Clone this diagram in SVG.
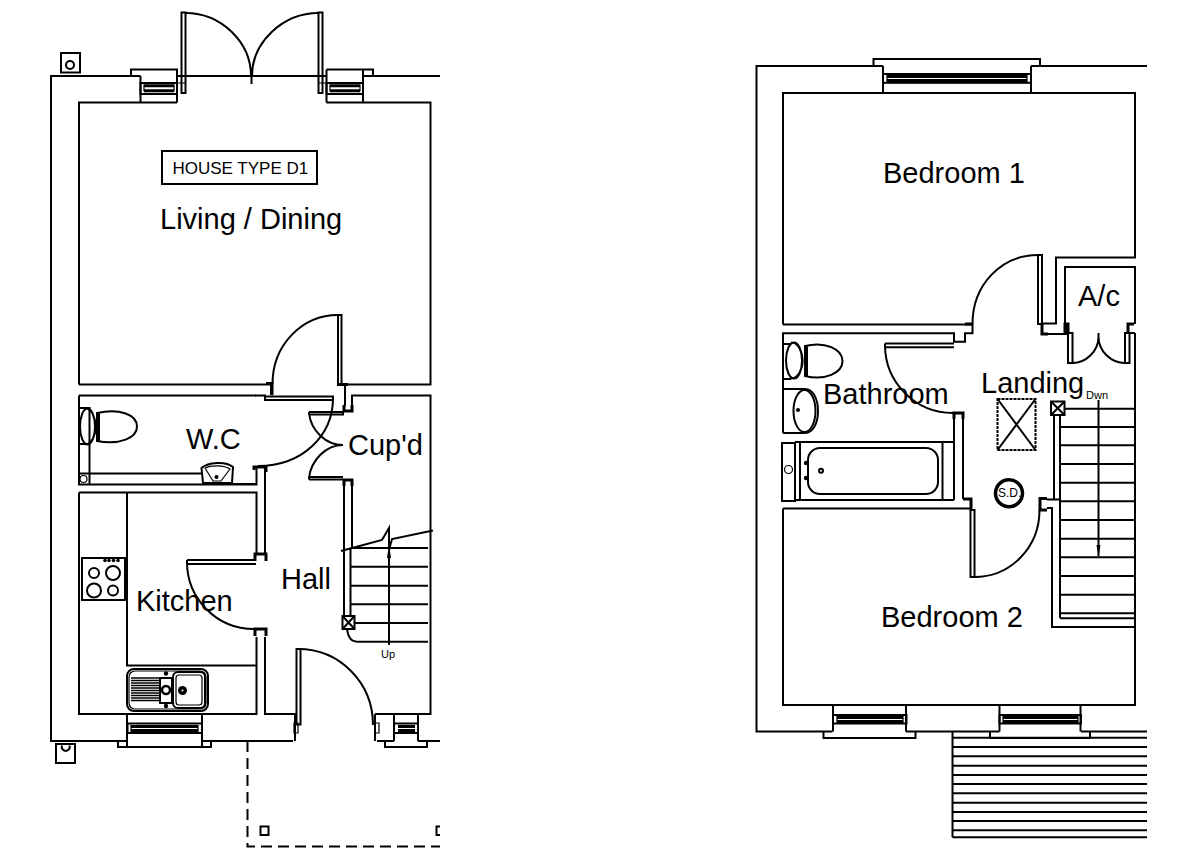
<svg xmlns="http://www.w3.org/2000/svg" width="1204" height="868" viewBox="0 0 1204 868">
<style>
.l{fill:none;stroke:#000;stroke-width:2;stroke-linejoin:miter}
.t{fill:none;stroke:#000;stroke-width:1.2}
.k{fill:none;stroke:#000;stroke-width:3}
.d{fill:none;stroke:#000;stroke-width:2;stroke-dasharray:11 6}
.f{fill:#000;stroke:none}
text{font-family:"Liberation Sans",Arial,sans-serif;fill:#000}
.r{font-size:29px}
.s{font-size:11px}
</style>
<rect width="1204" height="868" fill="#fff"/>
<g id="ground-floor">
<g id="ground-walls" class="l">
<path d="M440,76H363V69.500H373V76M326.500,69.500H363M131,76V69.500H177V102.500M140.500,76H51V741H127M140.500,76V102.500M79,384.500V102.500H140.500V102.500H177M326.500,69.500V102.500M363,76V102.500M326.500,102.500H430.500V384.500H345V406M79,384.500H271V395"/>
<path d="M177,76H326.500"/>
<path d="M352,411V395.500H430.500V714H375M79,395.500H256M79,395.500V484.500H256.500V466M79,492.500V714H256.500V637M79,492.500H256.500V554M127,492.500V665.500H256.500M265,466V555M265,637V714H295V741M202,741H293M377,741H394M418,741H440M375,714V741M394,714V741M418,714V741"/>
<path d="M127,714V747H118V741H127M202,714V741M202,741V747H211V741M118,747H211M385,741V747H427V741"/>
<path d="M344,480V616M352,480V548M350.500,548V616"/>
</g>
<g id="ground-windows" class="l">
<rect x="140.500" y="83" width="36.500" height="11"/><path class="k" d="M144,85.800H174M144,90.800H174"/><path class="t" d="M144,84.500V91.500M174,84.500V91.500"/>
<rect x="326.500" y="83" width="36.500" height="11"/><path class="k" d="M330,85.800H360M330,90.800H360"/><path class="t" d="M330,84.500V91.500M360,84.500V91.500"/>
<rect x="127.500" y="723.500" width="74.500" height="9.500"/><path class="k" d="M131,726.500H198M131,730.500H198"/><path class="t" d="M131,725V732M198,725V732"/>
<rect x="394" y="723.500" width="24" height="9.500"/><path class="k" d="M398,726.500H415M398,730.500H415"/>
<path class="t" d="M375,723V733H379V723ZM294,723V733H298V723Z"/>
</g>
<g id="ground-doors" class="l">
<path d="M185.500,13C221,13 251,42 251,76M318.500,13C283,13 252,42 252,76M251.500,76V84"/>
<rect x="181.500" y="12.500" width="4" height="80.500"/><rect x="318.500" y="12.500" width="4" height="80.500"/>
<path class="t" d="M177,83H185M318,83H326.500"/>
<path d="M338,315C302,315 272.500,345 272.500,384"/><rect x="338" y="315" width="3.500" height="70"/>
<path class="k" d="M266,383.500H272V395M338,384.500H348"/>
<path d="M255,395.500H265V396.500H333V400H265V396.500"/><path d="M333,398C333,436 302,466 258,466"/>
<path class="k" d="M254,470V467H266V472M344,405V411H352V405M344,486V480H352V486"/>
<path d="M309,412H343M309,414.500H343V411M309,412V414.500M309,413C311,431 326,445 343,445M309,477H343M309,479.500H343M309,477V479.500M309,478C311,460 326,445 343,445"/>
<path d="M187,560H256M187,564H256M187,560V564M187,562C187,598 216,629 254,629"/>
<path class="k" d="M255,561V554H266V561M255,636V629H266V636"/>
<path d="M298,649C340,649 373,683 373,725"/><rect x="296.500" y="649" width="4" height="75.500"/>
</g>
<g id="ground-stairs" class="l">
<path d="M350.500,548H428M350.500,566.700H428M350.500,585.700H428M350.500,604.300H428M354,623H428M357,641.700H428M347,629C348,637 351,641.700 357,641.700"/>
<path d="M341,551L382,540L389,528V645M389,550L392,539L433,530.500"/>
<path class="f" d="M389,544L387,558H391Z"/>
<rect x="342.500" y="616" width="12" height="13"/><path d="M342.500,616L354.500,629M354.500,616L342.500,629"/>
</g>
<g id="wc-fittings" class="l">
<path d="M79,408H89.500V444H79M89.500,444V484.500M79,473.500H201M233,484H256"/>
<ellipse cx="87.500" cy="426.500" rx="7.500" ry="18"/><path class="t" d="M85,408C92,410 96,418 96,426.500C96,435 92,442 85,445"/>
<path d="M97,413C120,408 137,415 137,426.500C137,438 120,445 97,441ZM99,413V441"/>
<circle cx="83.500" cy="479" r="3.500" class="t"/>
<path d="M203,483L201.500,468C208,462 226,461 233,467L232,483Z"/><path class="t" d="M205,468C211,465 224,465 230,469L221,481H213Z"/><circle class="f" cx="216.500" cy="477" r="2"/>
</g>
<g id="kitchen-fittings" class="l">
<rect x="82" y="558" width="43" height="42"/>
<circle cx="94" cy="573" r="5"/><circle cx="113" cy="573" r="7"/><circle cx="94" cy="590.500" r="7"/><circle cx="113" cy="590.500" r="5"/>
<circle class="f" cx="105" cy="560.500" r="1.800"/><circle class="f" cx="109" cy="560.500" r="1.800"/><circle class="f" cx="113.500" cy="560.500" r="1.800"/><circle class="f" cx="118" cy="560.500" r="1.800"/>
<rect x="127" y="669" width="81" height="42" rx="7"/><rect x="129" y="671" width="77" height="38" rx="6" class="t"/>
<path style="stroke-width:1.700" d="M131,678H160M131,680.500H160M131,683H160M131,685.500H160M131,688H160M131,690.500H160M131,693H160M131,695.500H160M131,698H160M131,700.500H160"/>
<rect x="160" y="678" width="12" height="25"/><circle cx="166" cy="690" r="4" style="stroke-width:2.500"/>
<rect x="173" y="672" width="32" height="36" rx="5"/><rect x="176" y="675" width="26" height="30" rx="3" class="t"/>
<circle class="f" cx="182.500" cy="690.500" r="4.500"/><circle cx="182.500" cy="690.500" r="1" fill="#fff" style="stroke:none"/><circle class="f" cx="166" cy="673.500" r="2.200"/><circle class="f" cx="166" cy="706" r="2.200"/>
</g>
<g id="ground-externals" class="l">
<rect x="61" y="53" width="19" height="19.500"/><circle cx="70" cy="65" r="4"/>
<rect x="56" y="744" width="19" height="19"/><path d="M62,745.500A4,4 0 1 0 69.500,745.500"/>
<path class="d" d="M247.500,741V846.500H440"/>
<rect x="260.500" y="826.500" width="8" height="8.500"/><path d="M440,826.500H436.500V835H440"/>
</g>
<g id="ground-labels">
<rect x="162" y="151" width="155" height="33" class="l"/>
<text x="172.500" y="174" font-size="17">HOUSE TYPE D1</text>
<text x="160" y="229" class="r">Living / Dining</text>
<text x="186" y="449" class="r">W.C</text>
<text x="348" y="455" class="r">Cup'd</text>
<text x="136" y="611" class="r">Kitchen</text>
<text x="281" y="589" class="r">Hall</text>
<text x="381" y="658" class="s">Up</text>
</g>
</g>
<g id="first-floor">
<g id="first-walls" class="l">
<path d="M883,66H756.500V731.500H832.500M873.500,66V59H1040V66M1031,66H1147M883,66V93M1031,66V93"/>
<path d="M783,324.500V93H1135V257.500H1056V323.500H1042M783,324.500H972.500V333.300H965V341.700H954V333.300H783V433M783,508.500V705H1135V627H1052V508H1047M783,508.500H971"/>
<path d="M1065,325V267H1135V324M1043,334H1068M1135,333V627M1130,333H1135"/>
<path d="M954,413V500M963,413V499M1047,499.500H1060M1054,415V499M1060,415V618"/>
<path d="M906,731.500H999.500M1081,731.500H1147M823.500,731.500V738H915.500V731.500M990,731.500V738H1090V731.500M833,705V731.500M906,705V731.500M999.500,705V731.500M1080.500,705V731.500"/>
</g>
<g id="first-windows" class="l">
<rect x="883" y="74" width="148" height="8.800"/><path class="k" d="M887,76.500H1027M887,80.500H1027"/><path class="t" d="M887,74V83M1027,74V83"/>
<rect x="833" y="715" width="73.500" height="8.500"/><path class="k" d="M837,717.500H903M837,721.500H903"/><path class="t" d="M837,715V723M903,715V723"/>
<rect x="999.500" y="715" width="81.500" height="8.500"/><path class="k" d="M1003,717.500H1078M1003,721.500H1078"/><path class="t" d="M1003,715V723M1078,715V723"/>
</g>
<g id="first-doors" class="l">
<path d="M1038,255C1001,255 972.500,285 972.500,324"/><rect x="1038" y="255" width="4" height="69"/>
<path class="k" d="M965,324H972M1042,324V334H1048M1065,334V324H1068V334M1128,334V324H1134"/>
<path d="M885,343.500H954M885,347.300H954M885,343.500V347.300M885,345C885,382 915,413 953,413"/>
<path class="k" d="M954,419V413H963V419M963,499H971V510"/>
<rect x="970.500" y="510" width="4" height="67"/><path d="M974.500,577C1010,577 1039.500,548 1039.500,510"/>
<path class="k" d="M1047,498.500H1040V510H1047"/>
<rect x="1068" y="333" width="4.500" height="30"/><rect x="1125" y="333" width="4.500" height="30"/>
<path d="M1072.500,363C1086,363 1098.500,351 1098.500,337V333M1125,363C1111,363 1098.500,351 1098.500,337"/>
</g>
<g id="first-stairs" class="l">
<rect x="1051" y="401.500" width="13.500" height="13.500"/><path d="M1051,401.500L1064.500,415M1064.500,401.500L1051,415"/>
<path d="M1064.500,408.700H1135M1060,427H1135M1060,445.300H1135M1060,464H1135M1060,482.700H1135M1060,501.300H1135M1060,520H1135M1060,538.700H1135M1060,557.300H1135M1060,576H1135M1060,594.700H1135M1060,613.300H1135M1060,618.300H1135"/>
<path d="M1098.500,400V556"/><path class="f" d="M1098.500,557L1096.500,545H1100.500Z"/>
</g>
<g id="bathroom-fittings" class="l">
<path d="M783,344H791M783,379H791"/>
<ellipse cx="794" cy="360.500" rx="8" ry="18"/><path class="t" d="M791,342C798,344 803,352 803,360.500C803,369 798,377 791,379"/>
<path d="M805,346C825,341 842.500,349 842.500,361C842.500,373 825,381 805,376ZM807,346V376"/>
<path d="M783,389H805C813,389 818,399 818,411C818,423 813,433 805,433H783"/>
<ellipse cx="804.500" cy="411" rx="11" ry="21"/><circle class="f" cx="798" cy="410" r="2"/>
<path d="M795,442H954M795,500H954"/>
<rect x="782" y="443" width="13" height="58"/><circle class="t" cx="788.500" cy="469.500" r="4"/>
<path d="M800,442V500M942.500,442V500"/>
<rect x="808" y="448" width="130" height="46" rx="12"/>
<circle class="f" cx="806" cy="463" r="2.200"/><circle class="f" cx="806" cy="478" r="2.200"/><circle cx="821" cy="470.700" r="2"/>
</g>
<g id="landing-fittings" class="l">
<rect x="997.500" y="399" width="38" height="51" stroke-dasharray="3 1"/>
<path d="M997.500,399L1035.500,450M1035.500,399L997.500,450"/>
<circle cx="1009" cy="493.300" r="13.500" style="stroke-width:3.500"/>
</g>
<g id="terrace" class="l">
<path d="M952.500,731.500V837.300M952.500,737.700H1147M952.500,747H1147M952.500,756.300H1147M952.500,765.700H1147M952.500,775H1147M952.500,784H1147M952.500,793.300H1147M952.500,802.700H1147M952.500,812H1147M952.500,821H1147M952.500,830.300H1147M952.500,837.300H1147"/>
</g>
<g id="first-labels">
<text x="883" y="183" class="r">Bedroom 1</text>
<text x="881" y="627" class="r">Bedroom 2</text>
<text x="1078" y="306" class="r">A/c</text>
<text x="823" y="404" class="r">Bathroom</text>
<text x="981" y="393" class="r">Landing</text>
<text x="1086" y="399" class="s">Dwn</text>
<text x="998" y="497" font-size="12">S.D.</text>
</g>
</g>
</svg>
